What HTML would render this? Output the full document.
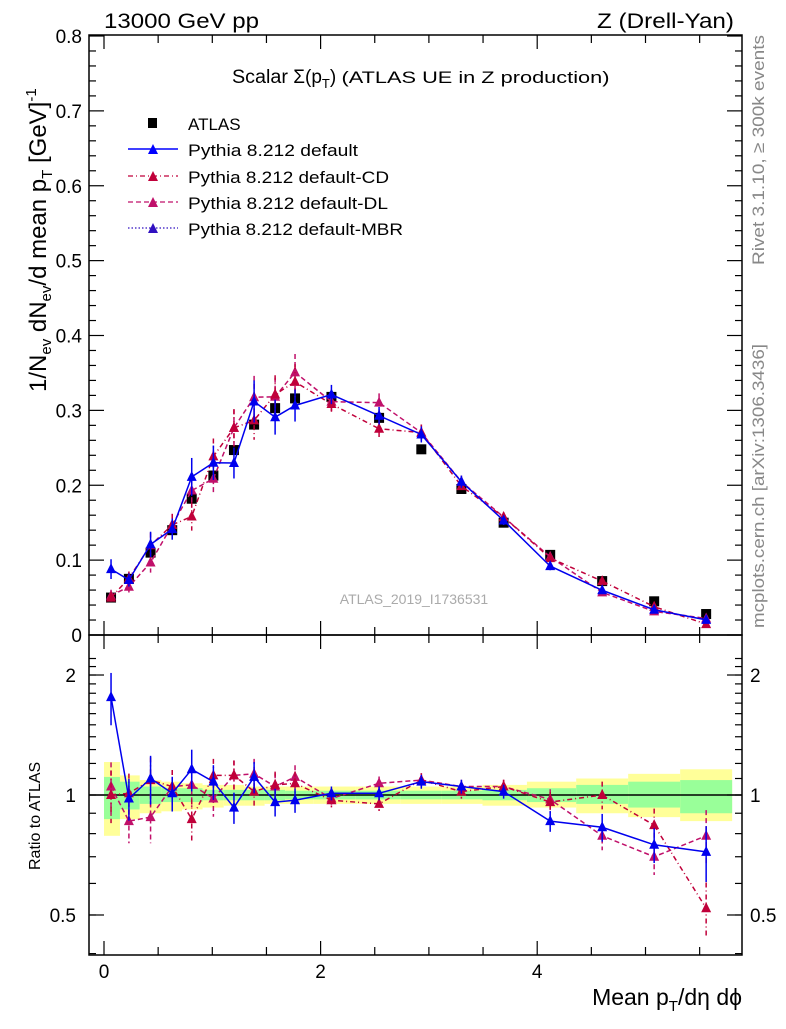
<!DOCTYPE html>
<html><head><meta charset="utf-8"><style>
body{margin:0;background:#fff;width:786px;height:1024px;overflow:hidden}
svg text{font-family:"Liberation Sans",sans-serif}
</style></head><body>
<svg id="c" width="786" height="1024" viewBox="0 0 786 1024" xmlns="http://www.w3.org/2000/svg">
<rect x="0" y="0" width="786" height="1024" fill="#fff"/>
<g id="bands"></g><g id="marks"></g>
<rect x="89" y="35" width="653" height="600" fill="none" stroke="#000" stroke-width="1.5"/>
<rect x="89" y="635" width="653" height="320" fill="none" stroke="#000" stroke-width="1.5"/>
<g id="axes"></g>
<text x="104" y="28" font-size="21" textLength="155" lengthAdjust="spacingAndGlyphs">13000 GeV pp</text>
<text x="597" y="28" font-size="21" textLength="137" lengthAdjust="spacingAndGlyphs">Z (Drell-Yan)</text>
<text x="232" y="83" font-size="19"><tspan textLength="56" lengthAdjust="spacingAndGlyphs">Scalar</tspan> Σ(p<tspan font-size="13" dy="5">T</tspan><tspan dy="-5">) </tspan><tspan font-size="17" textLength="268" lengthAdjust="spacingAndGlyphs">(ATLAS UE in Z production)</tspan></text>
<text x="414" y="604" font-size="14" fill="#aaa" text-anchor="middle">ATLAS_2019_I1736531</text>
<text transform="translate(764,265) rotate(-90)" font-size="17" fill="#888" textLength="230" lengthAdjust="spacingAndGlyphs">Rivet 3.1.10, ≥ 300k events</text>
<text transform="translate(764,628) rotate(-90)" font-size="17" fill="#888" textLength="284" lengthAdjust="spacingAndGlyphs">mcplots.cern.ch [arXiv:1306.3436]</text>
<text transform="translate(46,392) rotate(-90)" font-size="24">1/N<tspan font-size="15" dy="5">ev</tspan><tspan dy="-5"> dN</tspan><tspan font-size="15" dy="5">ev</tspan><tspan dy="-5">/d mean p</tspan><tspan font-size="15" dy="6">T</tspan><tspan dy="-6"> [GeV]</tspan><tspan font-size="15" dy="-10">-1</tspan></text>
<text transform="translate(40,870) rotate(-90)" font-size="16">Ratio to ATLAS</text>
<text x="742" y="1005" font-size="23" text-anchor="end">Mean p<tspan font-size="15" dy="6">T</tspan><tspan dy="-6">/dη dϕ</tspan></text>
<g>
<rect x="148" y="118" width="9" height="10" fill="#000"/>
<text x="188" y="130" font-size="17">ATLAS</text>
<line x1="128" y1="149" x2="178" y2="149" stroke="#00f" stroke-width="1.5"/>
<path d="M148,154 L153,144 L158,154Z" fill="#00f"/>
<text x="188" y="156" font-size="17" textLength="170" lengthAdjust="spacingAndGlyphs">Pythia 8.212 default</text>
<line x1="128" y1="176" x2="178" y2="176" stroke="#c0003a" stroke-width="1.3" stroke-dasharray="5,3,1,3"/>
<path d="M148,181 L153,171 L158,181Z" fill="#c0003a"/>
<text x="188" y="183" font-size="17" textLength="201" lengthAdjust="spacingAndGlyphs">Pythia 8.212 default-CD</text>
<line x1="128" y1="202" x2="178" y2="202" stroke="#c0106a" stroke-width="1.3" stroke-dasharray="5,3"/>
<path d="M148,207 L153,197 L158,207Z" fill="#c0106a"/>
<text x="188" y="209" font-size="17" textLength="200" lengthAdjust="spacingAndGlyphs">Pythia 8.212 default-DL</text>
<line x1="128" y1="228" x2="178" y2="228" stroke="#3010c0" stroke-width="1.3" stroke-dasharray="1.5,2"/>
<path d="M148,233 L153,223 L158,233Z" fill="#3010c0"/>
<text x="188" y="235" font-size="17" textLength="215" lengthAdjust="spacingAndGlyphs">Pythia 8.212 default-MBR</text>
</g>
</svg>
<script>
const xVals=[0.065,0.23,0.43,0.63,0.81,1.01,1.2,1.386,1.58,1.764,2.1,2.54,2.93,3.3,3.69,4.12,4.6,5.08,5.56];
const atlas=[0.050,0.075,0.110,0.140,0.182,0.213,0.247,0.281,0.303,0.316,0.318,0.290,0.248,0.195,0.150,0.107,0.072,0.045,0.028];
const ratioDefault=[1.76,0.98,1.10,1.01,1.16,1.08,0.93,1.11,0.96,0.97,1.01,1.01,1.08,1.05,1.02,0.86,0.83,0.75,0.72];
const ratioCD=[1.00,1.01,1.09,1.05,0.87,1.12,1.12,1.02,1.06,1.07,0.97,0.95,1.09,1.02,1.05,0.96,1.00,0.84,0.52];
const ratioDL=[1.05,0.86,0.88,1.05,1.06,0.98,1.12,1.13,1.05,1.11,0.98,1.07,1.09,1.05,1.05,0.975,0.79,0.70,0.79];
const relErr=[0.15,0.12,0.14,0.10,0.12,0.10,0.09,0.09,0.08,0.07,0.04,0.04,0.04,0.04,0.04,0.06,0.08,0.10,0.16];
const yellowHi=[1.21,1.12,1.09,1.08,1.07,1.06,1.06,1.05,1.05,1.05,1.05,1.05,1.05,1.05,1.06,1.08,1.10,1.13,1.16];
const yellowLo=[0.79,0.87,0.90,0.91,0.92,0.93,0.94,0.94,0.95,0.95,0.95,0.95,0.95,0.95,0.94,0.93,0.90,0.88,0.86];
const greenHi=[1.11,1.08,1.05,1.04,1.04,1.03,1.03,1.03,1.03,1.025,1.025,1.025,1.025,1.025,1.03,1.04,1.06,1.08,1.09];
const greenLo=[0.87,0.92,0.95,0.96,0.96,0.97,0.97,0.97,0.97,0.975,0.975,0.975,0.975,0.975,0.97,0.96,0.95,0.93,0.90];
const mainTicks=[0,0.1,0.2,0.3,0.4,0.5,0.6,0.7,0.8];
const mainTickLabels=["0","0.1","0.2","0.3","0.4","0.5","0.6","0.7","0.8"];
const ratioTicks=[0.5,1,2];
const ratioTickLabels=["0.5","1","2"];
const xTicks=[0,2,4];
const xTickLabels=["0","2","4"];

const NS="http://www.w3.org/2000/svg";
const X=v=>104+v*108.3;
const Y=v=>635-v*748.75;
const R=r=>795-398.6*Math.log10(r);
const RC=r=>Math.max(640,Math.min(952,R(r)));
function mk(p,tag,a){const e=document.createElementNS(NS,tag);for(const k in a)e.setAttribute(k,a[k]);p.appendChild(e);return e;}
const bands=document.getElementById('bands'),marks=document.getElementById('marks'),axes=document.getElementById('axes');
const edges=xVals.map((x,i)=>i==0?0.0:(xVals[i-1]+x)/2);edges.push(5.8);
for(let i=0;i<xVals.length;i++){
  const x0=X(edges[i]),x1=X(edges[i+1]);
  const y=mk(bands,'rect',{x:x0,y:R(yellowHi[i]),width:x1-x0,height:R(yellowLo[i])-R(yellowHi[i]),fill:'#ffff99'});
  
  
  const g=mk(bands,'rect',{x:x0,y:R(greenHi[i]),width:x1-x0,height:R(greenLo[i])-R(greenHi[i]),fill:'#99ff99'});
  
  
}
const one=mk(bands,'line',{x1:89,x2:742,y1:R(1),y2:R(1),stroke:'#000','stroke-width':1.5});


atlas.forEach((v,i)=>{
  const s=mk(marks,'rect',{x:X(xVals[i])-5,y:Y(v)-5,width:10,height:10,fill:'#000'});
  
  
});
function series(ratio,color,dash,name){
  const main=ratio.map((r,i)=>atlas[i]*r);
  const l1=mk(marks,'polyline',{points:main.map((v,i)=>X(xVals[i])+','+Y(v)).join(' '),fill:'none',stroke:color,'stroke-width':1.5,'stroke-dasharray':dash});
  
  
  const l2=mk(marks,'polyline',{points:ratio.map((r,i)=>X(xVals[i])+','+RC(r)).join(' '),fill:'none',stroke:color,'stroke-width':1.5,'stroke-dasharray':dash});
  
  
  ratio.forEach((r,i)=>{
    const x=X(xVals[i]),v=main[i],e=relErr[i];
    const eb=mk(marks,'line',{x1:x,x2:x,y1:Y(v*(1+e)),y2:Y(v*(1-e)),stroke:color,'stroke-width':1.5,'stroke-dasharray':dash});
    
    
    const eb2=mk(marks,'line',{x1:x,x2:x,y1:RC(r*(1+e)),y2:RC(r*(1-e)),stroke:color,'stroke-width':1.5,'stroke-dasharray':dash});
    
    
    const y=Y(v);
    const t=mk(marks,'path',{d:`M${x-5},${y+4} L${x},${y-6} L${x+5},${y+4}Z`,fill:color});
    
    
    const yr=RC(r);
    const t2=mk(marks,'path',{d:`M${x-5},${yr+4} L${x},${yr-6} L${x+5},${yr+4}Z`,fill:color});
    
    
  });
}
series(ratioDL,'#c0106a','5,3','default-dl');
series(ratioCD,'#c0003a','5,3,1,3','default-cd');
series(ratioDefault,'#0000ee','none','default');
function tk(x1,y1,x2,y2){const l=mk(axes,'line',{x1,y1,x2,y2,stroke:'#000','stroke-width':1.2});}
mainTicks.forEach((v,i)=>{
  const y=Y(v);tk(89,y,104,y);tk(742,y,727,y);
  const t=mk(axes,'text',{x:82,y:y+7,'font-size':19,'text-anchor':'end'});t.textContent=mainTickLabels[i];
  
  
  if(i<mainTicks.length-1){for(let k=1;k<5;k++){const ym=Y(v+k*0.02);tk(89,ym,96,ym);tk(742,ym,735,ym);}}
});
for(let r=0.4;r<=2.3;r+=0.1){const y=R(r);if(y<636||y>954)continue;tk(89,y,96,y);tk(742,y,735,y);}
ratioTicks.forEach((r,i)=>{
  const y=R(r);tk(89,y,104,y);tk(742,y,727,y);
  const t=mk(axes,'text',{x:76,y:y+7,'font-size':19,'text-anchor':'end'});t.textContent=ratioTickLabels[i];
  
  
  const t2=mk(axes,'text',{x:750,y:y+7,'font-size':19});t2.textContent=ratioTickLabels[i];
  
  
});
for(let v=0;v<=5.8;v+=0.5){
  const x=X(v),big=Math.abs(v-Math.round(v/2)*2)<1e-6,len=big?14:8;
  tk(x,635,x,635-len);tk(x,35,x,35+len);tk(x,635,x,635+len);tk(x,955,x,955-len);
}
xTicks.forEach((v,i)=>{
  const t=mk(axes,'text',{x:X(v),y:978,'font-size':19,'text-anchor':'middle'});t.textContent=xTickLabels[i];
  
  
});
</script>
</body></html>
